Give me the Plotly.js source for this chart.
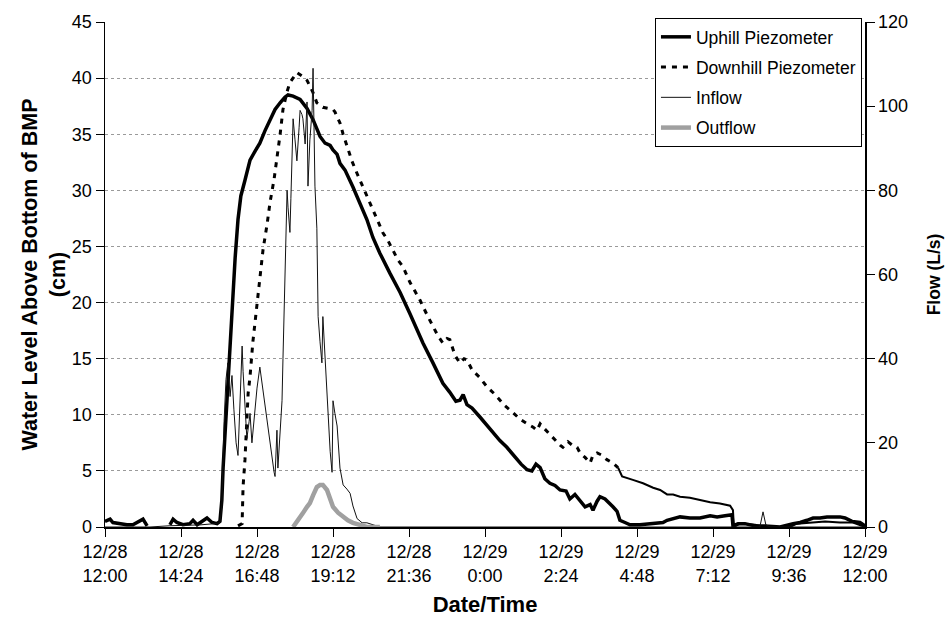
<!DOCTYPE html>
<html>
<head>
<meta charset="utf-8">
<script src="https://cdn.plot.ly/plotly-3.0.1.min.js"></script>
<style>html,body{margin:0;padding:0;background:#fff;}#chart{width:950px;height:624px;}</style>
</head>
<body>
<div id="chart"></div>
<script>
// Hours after 12/28 12:00
const uphillHours = [0.00,0.16,0.25,0.47,0.69,0.88,1.11,1.20,1.33,1.58,2.05,2.15,2.27,2.46,2.68,2.78,2.91,3.09,3.22,3.38,3.54,3.63,3.69,3.73,3.79,3.85,3.95,4.04,4.11,4.20,4.29,4.42,4.58,4.74,4.89,5.05,5.21,5.37,5.53,5.68,5.78,5.94,6.16,6.38,6.57,6.69,6.79,6.95,7.11,7.20,7.33,7.42,7.58,7.83,8.05,8.27,8.46,8.68,9.00,9.32,9.63,10.04,10.36,10.67,10.89,11.08,11.21,11.31,11.43,11.59,11.84,12.16,12.47,12.69,12.95,13.14,13.33,13.48,13.61,13.74,13.89,14.05,14.21,14.37,14.56,14.68,14.84,15.00,15.16,15.32,15.41,15.54,15.63,15.79,15.95,16.04,16.17,16.26,16.42,16.58,16.89,17.21,17.62,17.75,17.91,18.16,18.47,18.79,19.11,19.33,19.58,19.80,19.83,19.99,20.21,20.53,20.84,21.32,21.73,21.95,22.17,22.36,22.58,22.80,22.99,23.21,23.37,23.59,23.84,24.00];
const uphillCm = [0.5,0.7,0.4,0.3,0.2,0.2,0.5,0.7,0.1,null,0.2,0.7,0.4,0.2,0.3,0.6,0.2,0.6,0.8,0.4,0.3,0.5,2.4,5.3,8.3,11.9,16.0,20.9,24.0,27.4,29.5,30.9,32.7,33.5,34.2,35.3,36.3,37.2,37.8,38.3,38.5,38.4,38.1,37.3,36.3,35.5,34.8,34.2,34.0,33.6,33.2,32.4,31.8,30.3,28.8,27.4,25.8,24.4,22.6,20.9,19.0,16.4,14.6,12.8,12.0,11.2,11.3,11.8,10.9,10.6,9.8,8.7,7.7,7.1,6.2,5.6,5.1,5.0,5.6,5.3,4.3,3.9,3.7,3.3,3.2,2.5,2.9,2.4,1.8,2.0,1.5,2.3,2.7,2.5,2.1,1.8,1.4,0.6,0.4,0.2,0.2,0.3,0.4,0.6,0.7,0.9,0.8,0.8,1.0,0.9,1.0,1.1,0.1,0.3,0.3,0.1,0.1,0.0,0.3,0.4,0.6,0.8,0.8,0.9,0.9,0.9,0.8,0.5,0.4,0.1];

const downhillHours = [4.20,4.33,4.36,4.42,4.52,4.58,4.67,4.80,4.89,4.99,5.12,5.21,5.34,5.43,5.53,5.62,5.75,5.84,5.97,6.06,6.22,6.38,6.47,6.57,6.69,6.79,6.88,7.04,7.20,7.26,7.33,7.42,7.52,7.64,7.80,7.96,8.15,8.37,8.59,8.78,8.94,9.09,9.25,9.41,9.63,9.79,9.95,10.17,10.36,10.52,10.67,10.80,10.89,11.05,11.21,11.34,11.43,11.59,11.84,12.06,12.32,12.63,12.88,13.11,13.33,13.52,13.64,13.74,13.83,13.99,14.21,14.37,14.46,14.62,14.75,14.91,15.00,15.16,15.32,15.41,15.54,15.69,15.85,16.04,16.20];
const downhillCm = [0.1,0.3,3.6,6.0,11.9,13.4,16.5,20.0,22.5,24.7,27.0,28.9,31.0,32.7,35.0,37.2,38.8,39.6,40.2,40.5,40.2,39.8,39.3,38.7,37.8,37.6,37.4,37.3,37.2,37.0,36.5,36.0,35.0,33.9,32.6,31.5,30.3,28.8,27.4,26.2,25.5,24.7,23.8,23.2,21.8,21.0,20.2,18.9,17.8,17.0,16.4,16.8,16.7,15.3,14.6,15.0,14.9,14.0,13.3,12.5,11.8,10.8,10.2,9.6,9.2,8.9,8.6,9.2,8.9,8.4,7.8,7.3,7.1,7.6,7.3,7.1,6.6,6.2,5.7,6.4,6.6,6.4,6.0,5.7,5.3];
// later part of the downhill record, where the readings are dense
const downhillLateHours = [16.20,16.33,16.67,16.99,17.31,17.53,17.75,17.94,18.16,18.47,18.79,19.11,19.42,19.74,19.83,19.86,20.05,20.53,20.84,21.63,21.85,22.26,22.74,23.21,23.62,24.00];
const downhillLateCm = [5.3,4.5,4.2,3.9,3.5,3.3,2.9,2.9,2.7,2.6,2.4,2.2,2.1,1.9,1.5,0.0,0.3,0.2,0.0,0.0,0.3,0.4,0.5,0.4,0.4,0.0];

const inflowHours = [0.00,1.42,2.05,3.00,3.47,3.63,3.69,3.76,3.82,3.88,3.95,4.01,4.07,4.14,4.20,4.26,4.33,4.36,4.42,4.48,4.55,4.58,4.64,4.71,4.80,4.89,4.96,4.99,5.05,5.12,5.21,5.27,5.34,5.37,5.40,5.43,5.46,5.49,5.53,5.59,5.62,5.68,5.75,5.78,5.84,5.87,5.94,6.00,6.06,6.13,6.16,6.22,6.25,6.32,6.35,6.38,6.41,6.47,6.54,6.57,6.60,6.63,6.69,6.73,6.79,6.85,6.88,6.95,7.01,7.07,7.11,7.17,7.20,7.26,7.33,7.42,7.52,7.64,7.74,7.83,7.96,8.12,8.27,8.68,20.68,20.78,20.87,21.00,24.00];
const inflowLs = [0,0,0.3,0.5,0.8,1.0,5,25,35,39,31,36,28,20,17,30,43,37,28,21,25,27,20,26,33,38,34,32,29,25,20,16,13,12,18,23,14,18,21,30,40,60,80,76,70,78,97,92,87,95,99,98,97,91,96,101,81,92,99,109,95,81,71,50,44,39,50,40,32,24,18,13,30,27,24,14,10,9,8,5,2,1,1,0,0,3.6,0.5,0,0];

const outflowHours = [5.94,6.10,6.25,6.38,6.47,6.57,6.69,6.79,6.88,7.01,7.11,7.20,7.36,7.52,7.67,7.83,8.05,8.27,8.68];
const outflowLs = [0,1.5,3.3,4.8,5.7,7.5,9.5,10.0,10.0,8.8,6.5,4.8,3.4,2.4,1.6,1.0,0.4,0,0];

const xTickVals = [0,2.4,4.8,7.2,9.6,12,14.4,16.8,19.2,21.6,24];
const xTickText = ['12/28<br>12:00','12/28<br>14:24','12/28<br>16:48','12/28<br>19:12','12/28<br>21:36','12/29<br>0:00','12/29<br>2:24','12/29<br>4:48','12/29<br>7:12','12/29<br>9:36','12/29<br>12:00'];
const leftTicks = [0,5,10,15,20,25,30,35,40,45];
const rightTicks = [0,20,40,60,80,100,120];

const FONT = 'Liberation Sans, Arial, sans-serif';

const traces = [
  {x: uphillHours, y: uphillCm, name: 'Uphill Piezometer', legendgroup: 'a', type: 'scatter', mode: 'lines',
   line: {color: '#000', width: 3.5}, connectgaps: false},
  {x: downhillHours, y: downhillCm, name: 'Downhill Piezometer', legendgroup: 'b', type: 'scatter', mode: 'lines',
   line: {color: '#000', width: 3, dash: '5px,6px'}},
  {x: downhillLateHours, y: downhillLateCm, name: 'Downhill Piezometer', legendgroup: 'b', showlegend: false, type: 'scatter', mode: 'lines',
   line: {color: '#000', width: 2}},
  {x: inflowHours, y: inflowLs, name: 'Inflow', legendgroup: 'c', type: 'scatter', mode: 'lines', yaxis: 'y2',
   line: {color: '#111', width: 1}},
  {x: outflowHours, y: outflowLs, name: 'Outflow', legendgroup: 'd', type: 'scatter', mode: 'lines', yaxis: 'y2',
   line: {color: '#a0a0a0', width: 4.5}}
];

const layout = {
  width: 950, height: 624,
  margin: {l: 105, r: 85, t: 22, b: 97},
  paper_bgcolor: '#fff', plot_bgcolor: '#fff',
  font: {family: FONT, size: 18, color: '#000'},
  showlegend: true,
  legend: {x: 0.996, xanchor: 'right', y: 1.008, yanchor: 'top', bgcolor: '#fff',
    bordercolor: '#000', borderwidth: 1, font: {family: FONT, size: 17.5, color: '#000'},
    tracegroupgap: 4.5, traceorder: 'grouped'},
  xaxis: {range: [0, 24], tickmode: 'array', tickvals: xTickVals, ticktext: xTickText,
    showgrid: false, zeroline: false, showline: true, linecolor: '#000', linewidth: 1.5,
    ticks: 'outside', ticklen: 8, tickcolor: '#000', tickfont: {size: 18},
    title: {text: 'Date/Time', font: {size: 22, family: FONT, weight: 'bold'}, standoff: 12}},
  yaxis: {range: [0, 45], tickmode: 'array', tickvals: leftTicks, showgrid: true,
    gridcolor: '#9a9a9a', griddash: 'dot', gridwidth: 1, zeroline: false,
    showline: true, linecolor: '#000', linewidth: 1.5, ticks: 'outside', ticklen: 8, tickcolor: '#000',
    tickfont: {size: 18},
    title: {text: 'Water Level Above Bottom of BMP<br>(cm)', font: {size: 21.5, family: FONT, weight: 'bold'}, standoff: 0}},
  yaxis2: {range: [0, 120], overlaying: 'y', side: 'right', tickmode: 'array', tickvals: rightTicks,
    showgrid: false, zeroline: false, showline: true, linecolor: '#000', linewidth: 1.5,
    ticks: 'outside', ticklen: 8, tickcolor: '#000', tickfont: {size: 18},
    title: {text: 'Flow (L/s)', font: {size: 17.5, family: FONT, weight: 'bold'}, standoff: 20}}
};

Plotly.newPlot('chart', traces, layout, {staticPlot: true, displayModeBar: false});
</script>
</body>
</html>
